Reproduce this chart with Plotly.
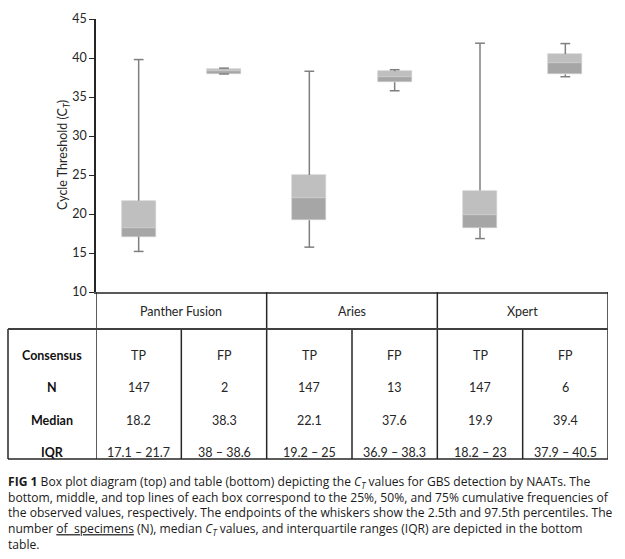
import plotly.graph_objects as go

# ---------------- data ----------------
groups = ["Panther Fusion", "Aries", "Xpert"]
consensus = ["TP", "FP", "TP", "FP", "TP", "FP"]
n_values = [147, 2, 147, 13, 147, 6]
medians = [18.2, 38.3, 22.1, 37.6, 19.9, 39.4]
q1 = [17.1, 38.0, 19.2, 36.9, 18.2, 37.9]
q3 = [21.7, 38.6, 25.0, 38.3, 23.0, 40.5]
lower_whisker = [15.2, 37.95, 15.75, 35.8, 16.85, 37.6]
upper_whisker = [39.8, 38.7, 38.3, 38.5, 41.9, 41.85]
row_labels = ["Consensus", "N", "Median", "IQR"]
y_ticks = [10, 15, 20, 25, 30, 35, 40, 45]

# ---------------- geometry helpers ----------------
W, H = 625, 559
L, R, T, B = 96, 17, 19, 267
PW = W - L - R
PH = H - T - B


def py(p):
    """pixel row -> paper y"""
    return (H - B - p) / PH


def px(p):
    """pixel column -> paper x"""
    return (p - L) / PW


pos = list(range(len(consensus)))
GRAY_LINE = "#7f7f7f"
FONT = "Lato, Open Sans, sans-serif"
TXT = "#262626"

fig = go.Figure()

# lower half of boxes (Q1 -> median)
fig.add_trace(go.Bar(
    x=pos, y=[m - a for m, a in zip(medians, q1)], base=q1, width=0.4,
    marker=dict(color="#a6a6a6", line=dict(color="#cfcfcf", width=0.6)),
    hoverinfo="skip", showlegend=False))
# upper half of boxes (median -> Q3)
fig.add_trace(go.Bar(
    x=pos, y=[b - m for m, b in zip(medians, q3)], base=medians, width=0.4,
    marker=dict(color="#bfbfbf", line=dict(color="#cfcfcf", width=0.6)),
    hoverinfo="skip", showlegend=False))

# whiskers
wx, wy = [], []
for p, a, b, lo, hi in zip(pos, q1, q3, lower_whisker, upper_whisker):
    wx += [p, p, None, p, p, None]
    wy += [b, hi, None, a, lo, None]
fig.add_trace(go.Scatter(x=wx, y=wy, mode="lines",
                         line=dict(color=GRAY_LINE, width=1.5),
                         hoverinfo="skip", showlegend=False))
# whisker caps
fig.add_trace(go.Scatter(
    x=pos + pos, y=upper_whisker + lower_whisker, mode="markers",
    marker=dict(symbol="line-ew", size=7, line=dict(color=GRAY_LINE, width=1.5)),
    hoverinfo="skip", showlegend=False))

# ---------------- table (shapes + annotations) ----------------
shapes = []
LINE = dict(color="#262626", width=1.5)
n_cat = len(consensus)
# header row verticals (group borders)
for k in range(0, n_cat + 1, 2):
    shapes.append(dict(type="line", xref="x", yref="paper",
                       x0=k - 0.5, x1=k - 0.5, y0=py(292), y1=py(329), line=LINE))
# table body verticals
for k in range(0, n_cat + 1):
    shapes.append(dict(type="line", xref="x", yref="paper",
                       x0=k - 0.5, x1=k - 0.5, y0=py(329), y1=py(459), line=LINE))
shapes.append(dict(type="line", xref="paper", yref="paper",
                   x0=px(8), x1=px(8), y0=py(329), y1=py(459), line=LINE))
# horizontal lines
shapes.append(dict(type="line", xref="paper", yref="paper",
                   x0=px(8), x1=1, y0=py(329), y1=py(329),
                   line=dict(color="#404040", width=2)))
shapes.append(dict(type="line", xref="paper", yref="paper",
                   x0=px(8), x1=1, y0=py(459), y1=py(459), line=LINE))

ann = []
# group headers
for gi, g in enumerate(groups):
    ann.append(dict(text=g, xref="x", yref="paper", x=2 * gi + 0.5, y=py(311),
                    xanchor="center", yanchor="middle",
                    showarrow=False, font=dict(family=FONT, size=12.5, color=TXT)))
row_y = [355, 387, 420, 452]
iqr_labels = [f"{a:g} \u2013 {b:g}" for a, b in zip(q1, q3)]
row_vals = [consensus, [str(v) for v in n_values], [f"{m:.1f}" for m in medians], iqr_labels]
for lab, yy, vals in zip(row_labels, row_y, row_vals):
    ann.append(dict(text=f"<b>{lab}</b>", xref="paper", yref="paper", x=px(52), y=py(yy),
                    xanchor="center", yanchor="middle",
                    showarrow=False, font=dict(family=FONT, size=12.5, color="#111")))
    for p, v in zip(pos, vals):
        ann.append(dict(text=v, xref="x", yref="paper", x=p, y=py(yy),
                        xanchor="center", yanchor="middle",
                        showarrow=False, font=dict(family=FONT, size=12.5, color=TXT)))

# y axis title
ann.append(dict(text="Cycle Threshold (C<sub><i>T</i></sub>)", xref="paper", yref="paper",
                x=px(63), y=py(155), textangle=-90, xanchor="center", yanchor="middle",
                showarrow=False, font=dict(family=FONT, size=12.5, color=TXT)))

# caption (one multi-line block)
CAP_FONT = dict(family="Open Sans, sans-serif", size=12.1, color="#1a1a1a")
caption = [
    "<b>FIG 1</b> Box plot diagram (top) and table (bottom) depicting the <i>C<sub>T</sub></i> values for GBS detection by NAATs. The",
    "bottom, middle, and top lines of each box correspond to the 25%, 50%, and 75% cumulative frequencies of",
    "the observed values, respectively. The endpoints of the whiskers show the 2.5th and 97.5th percentiles. The",
    "number <span style='text-decoration:underline;text-decoration-color:#2f6fd0'>of  specimens</span> (N), median <i>C<sub>T</sub></i> values, and interquartile ranges (IQR) are depicted in the bottom",
    "table.",
]
ann.append(dict(text="<br>".join(caption), xref="paper", yref="paper", x=px(7), y=py(472),
                xanchor="left", yanchor="top", align="left", borderpad=0,
                showarrow=False, font=CAP_FONT))

fig.update_layout(
    width=W, height=H, margin=dict(l=L, r=R, t=T, b=B),
    plot_bgcolor="white", paper_bgcolor="white",
    barmode="overlay", bargap=0, showlegend=False,
    shapes=shapes, annotations=ann,
    xaxis=dict(range=[-0.5, n_cat - 0.5], showticklabels=False, ticks="",
               showgrid=False, zeroline=False, showline=True,
               linecolor="#595959", linewidth=2, fixedrange=True),
    yaxis=dict(range=[10, 45], tickvals=y_ticks, ticks="outside", ticklen=5,
               tickcolor="#262626", showgrid=False, zeroline=False,
               showline=True, linecolor="#262626", linewidth=1.5,
               tickfont=dict(family=FONT, size=12.5, color=TXT), fixedrange=True),
)

fig.write_html(
    "out.html",
    config={"displayModeBar": False},
    post_script="document.body.style.margin='0';document.body.style.overflow='hidden';",
)
